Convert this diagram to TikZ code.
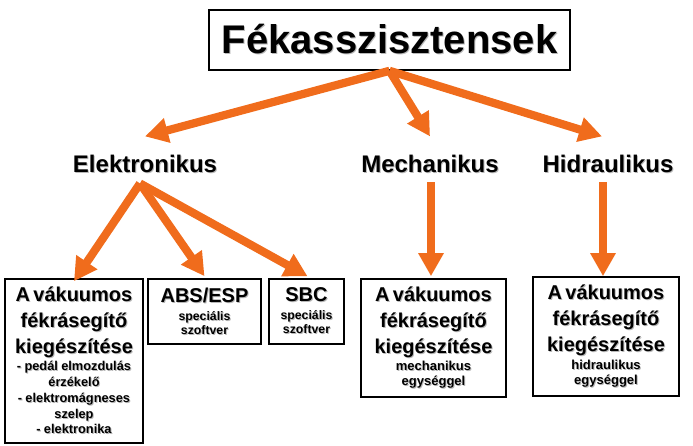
\documentclass[tikz,border=0pt]{standalone}
\usepackage{fontspec}
\setmainfont{Liberation Sans}
\usetikzlibrary{arrows.meta}
\definecolor{arrorange}{RGB}{240,108,28}
\newcommand\shd[1]{\leavevmode\rlap{\kern1pt\raisebox{-1pt}{\textcolor{black!28}{#1}}}#1}
\begin{document}
\begin{tikzpicture}[x=1pt,y=-1pt,
  arr/.style={draw=arrorange, line width=8.2pt, -{Triangle[width=24pt,length=23pt]}, fill=arrorange},
  boxnode/.style={draw=black, line width=1.6pt, inner sep=2pt, align=center, font=\bfseries},
  lbl/.style={font=\bfseries\fontsize{24}{28}\selectfont, inner sep=0pt, anchor=base},
  bigt/.style={font=\bfseries\fontsize{40}{44}\selectfont}]
\useasboundingbox (0,0) rectangle (693,445);

\node[draw, line width=1.6pt, minimum width=361pt, minimum height=60pt, inner sep=0pt, bigt] (title) at (389.5,40) {\shd{Fékasszisztensek}};

\node[lbl] (elek) at (145,172) {\shd{Elektronikus}};
\node[lbl] (mech) at (430,172) {\shd{Mechanikus}};
\node[lbl] (hidr) at (608,172) {\shd{Hidraulikus}};

\node[boxnode, minimum width=138pt, minimum height=164pt, text width=134pt] (b1) at (74,361)
 {\fontsize{20}{26}\selectfont \shd{A vákuumos}\\\shd{fékrásegítő}\\\shd{kiegészítése}\par\vspace{1.5pt}
  \fontsize{12.8}{15.7}\selectfont \shd{- pedál elmozdulás}\\\shd{érzékelő}\\\shd{- elektromágneses}\\\shd{szelep}\\\shd{- elektronika}\par};
\node[boxnode, minimum width=113pt, minimum height=65pt, text width=109pt] (b2) at (204.5,311.5)
 {\fontsize{20}{24}\selectfont \shd{ABS/ESP}\par\vspace{4pt}
  \fontsize{12.3}{14}\selectfont \shd{speciális}\\\shd{szoftver}\par};
\node[boxnode, minimum width=75pt, minimum height=65pt, text width=71pt] (b3) at (306.5,311.5)
 {\fontsize{20}{24}\selectfont \shd{SBC}\par\vspace{4pt}
  \fontsize{12.3}{14}\selectfont \shd{speciális}\\\shd{szoftver}\par};
\node[boxnode, minimum width=145pt, minimum height=118pt, text width=141pt] (b4) at (433.5,338)
 {\fontsize{20}{26}\selectfont \shd{A vákuumos}\\\shd{fékrásegítő}\\\shd{kiegészítése}\par\vspace{2.5pt}
  \fontsize{13}{15}\selectfont \shd{mechanikus}\\\shd{egységgel}\par};
\node[boxnode, minimum width=146pt, minimum height=119pt, text width=142pt] (b5) at (606,336.5)
 {\fontsize{20}{26}\selectfont \shd{A vákuumos}\\\shd{fékrásegítő}\\\shd{kiegészítése}\par\vspace{2.5pt}
  \fontsize{13}{15}\selectfont \shd{hidraulikus}\\\shd{egységgel}\par};

\draw[arr] (title.south) -- ([yshift=18pt]elek.north);
\draw[arr] (title.south) -- ([yshift=18pt]mech.north);
\draw[arr] (title.south) -- ([xshift=-6pt,yshift=18pt]hidr.north);

\draw[arr] ([xshift=-5pt,yshift=-10pt]elek.south) -- ([yshift=-3pt]b1.north);
\draw[arr] ([xshift=-5pt,yshift=-10pt]elek.south) -- ([yshift=2pt]b2.north);
\draw[arr] ([xshift=-5pt,yshift=-10pt]elek.south) -- ([xshift=1pt,yshift=2pt]b3.north);
\draw[arr] ([xshift=1pt,yshift=-9pt]mech.south) -- ([xshift=1pt,yshift=2pt]mech.south |- b4.north);
\draw[arr] ([xshift=-5pt,yshift=-9pt]hidr.south) -- ([xshift=-5pt,yshift=0pt]hidr.south |- b5.north);
\end{tikzpicture}
\end{document}
